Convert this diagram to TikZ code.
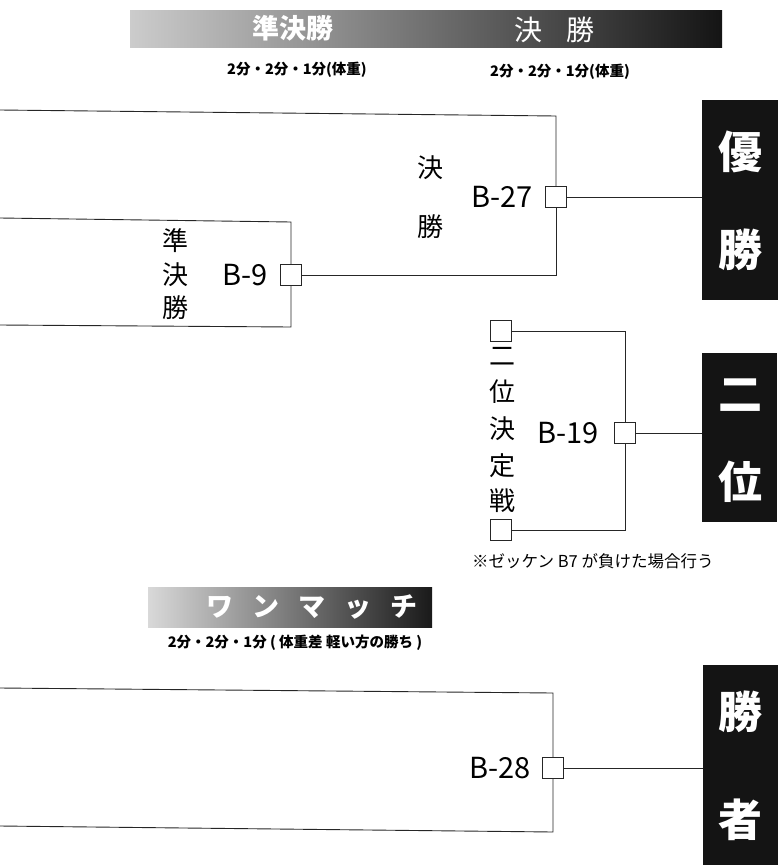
\documentclass[tikz,border=0pt]{standalone}
\usepackage{fontspec}
\setmainfont{Noto Sans CJK JP}
\newfontfamily\jp{Noto Sans CJK JP}
\begin{document}
\begin{tikzpicture}[x=1pt,y=-1pt,
  wire/.style={line width=0.9pt, black!85},
  matchbox/.style={draw=black!85, fill=white, line width=0.9pt, minimum width=21pt, minimum height=21pt, inner sep=0pt},
  blackbox/.style={fill=black!92, draw=none, inner sep=0pt},
  bigchar/.style={text=white, font=\jp\bfseries\fontsize{44}{44}\selectfont, inner sep=0pt},
  label/.style={font=\jp\fontsize{26}{26}\selectfont, inner sep=0pt},
  code/.style={font=\jp\fontsize{29}{29}\selectfont, inner sep=0pt, anchor=east},
  sub/.style={font=\jp\bfseries\fontsize{14.5}{14.5}\selectfont, inner sep=0pt},
  bannertext/.style={text=white, inner sep=0pt}
]
\useasboundingbox (0,0) rectangle (783,865);

% banners
\node[left color=gray!40, middle color=black!60, right color=black!92, minimum width=592pt, minimum height=37pt, inner sep=0pt] (ban1) at (426,28.5) {};
\node[bannertext, font=\jp\bfseries\fontsize{27}{27}\selectfont] (ban1a) at (293,28) {準決勝};
\node[bannertext, font=\jp\fontsize{28}{28}\selectfont] (ban1b) at (554,30) {決\hspace{24pt}勝};
\node[sub] (sub1) at (297,70) {2分・2分・1分(体重)};
\node[sub] (sub2) at (560,72) {2分・2分・1分(体重)};

\node[left color=gray!30, middle color=black!55, right color=black!90, minimum width=284pt, minimum height=40pt, inner sep=0pt] (ban2) at (290,607) {};
\node[bannertext, font=\jp\bfseries\fontsize{27}{27}\selectfont] (ban2a) at (312,607) {ワ\hspace{19pt}ン\hspace{19pt}マ\hspace{19pt}ッ\hspace{19pt}チ};
\node[sub] (sub3) at (295,643) {2分・2分・1分 ( 体重差 軽い方の勝ち )};

% result boxes
\node[blackbox, minimum width=76pt, minimum height=200pt] (yusho) at (740,200) {};
\node[bigchar] (yu1) at (740,152) {優};
\node[bigchar] (yu2) at (740,250) {勝};
\node[blackbox, minimum width=75pt, minimum height=169pt] (nii) at (739.5,437.5) {};
\node[bigchar] (ni1) at (740,395) {二};
\node[bigchar] (ni2) at (740,482) {位};
\node[blackbox, minimum width=75pt, minimum height=200pt] (shosha) at (740.5,765) {};
\node[bigchar] (sh1) at (740,712) {勝};
\node[bigchar] (sh2) at (740,820) {者};

% match boxes
\node[matchbox] (b27) at (556,197) {};
\node[matchbox] (b9) at (291,275) {};
\node[matchbox] (p1) at (501,331) {};
\node[matchbox] (p2) at (501,530) {};
\node[matchbox] (b19) at (625,433) {};
\node[matchbox] (b28) at (553,768) {};

% codes
\node[code] (t27) at (533,197) {B-27};
\node[code] (t9) at (268,275) {B-9};
\node[code] (t19) at (599,433) {B-19};
\node[code] (t28) at (531,768) {B-28};

% vertical labels
\node[label] (k1) at (430,168) {決};
\node[label] (k2) at (430,227) {勝};
\node[label] (s1) at (175,241) {準};
\node[label] (s2) at (175,275) {決};
\node[label] (s3) at (175,308) {勝};
\node[label] (n1) at (502,356) {二};
\node[label] (n2) at (502,392) {位};
\node[label] (n3) at (502,429) {決};
\node[label] (n4) at (502,466) {定};
\node[label] (n5) at (502,501) {戦};
\node[font=\jp\fontsize{16.5}{16.5}\selectfont, inner sep=0pt, anchor=west] (note) at (472,561) {※ゼッケン B7 が負けた場合行う};

% coordinates for free ends
\coordinate (a1) at (0,110);
\coordinate (a2) at (0,218);
\coordinate (a3) at (0,325);
\coordinate (a4) at (0,688);
\coordinate (a5) at (0,826);

% connectors
\draw[wire] (a1) -- (b27 |- 0,116) -- (b27.north);
\draw[wire] (b9.east) -- (b9.east -| b27) -- (b27.south);
\draw[wire] (b27.east) -- (b27.east -| yusho.west);
\draw[wire] (a2) -- (b9 |- 0,222) -- (b9.north);
\draw[wire] (a3) -- (b9 |- 0,327) -- (b9.south);
\draw[wire] (p1.east) -- (p1.east -| b19) -- (b19.north);
\draw[wire] (p2.east) -- (p2.east -| b19) -- (b19.south);
\draw[wire] (b19.east) -- (b19.east -| nii.west);
\draw[wire] (a4) -- (b28 |- 0,693) -- (b28.north);
\draw[wire] (a5) -- (b28 |- 0,832) -- (b28.south);
\draw[wire] (b28.east) -- (b28.east -| shosha.west);
\end{tikzpicture}
\end{document}
